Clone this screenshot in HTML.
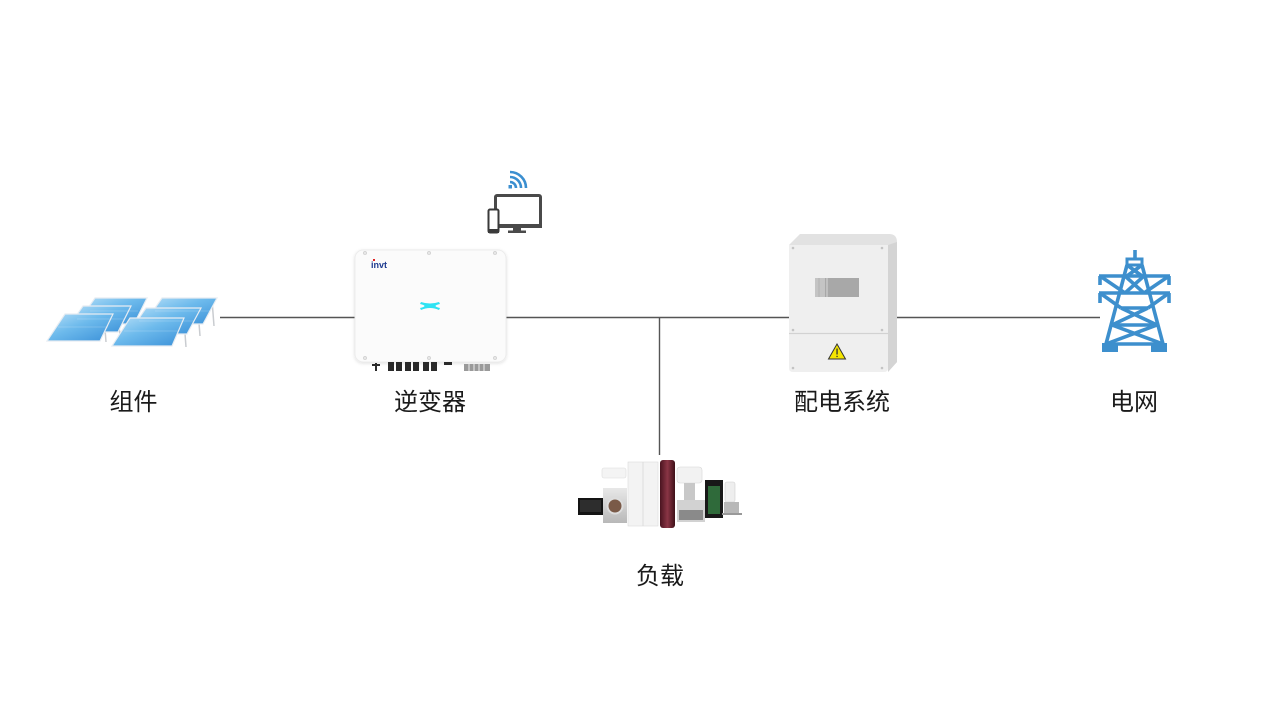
<!DOCTYPE html>
<html><head><meta charset="utf-8"><style>
html,body{margin:0;padding:0;background:#fff;}
body{width:1268px;height:719px;overflow:hidden;position:relative;}
svg{position:absolute;left:0;top:0;}
text{font-family:"Liberation Sans","Noto Sans CJK SC",sans-serif;font-size:24px;fill:#1a1a1a;}
</style></head><body>
<svg width="1268" height="719" viewBox="0 0 1268 719" xmlns="http://www.w3.org/2000/svg">
<defs>
<linearGradient id="pv" x1="0" y1="0" x2="1" y2="1">
<stop offset="0" stop-color="#b5def7"/><stop offset="0.45" stop-color="#6dbaec"/><stop offset="1" stop-color="#3a90d8"/>
</linearGradient>
<linearGradient id="brown" x1="0" y1="0" x2="1" y2="0">
<stop offset="0" stop-color="#4a1420"/><stop offset="0.5" stop-color="#8a3545"/><stop offset="1" stop-color="#3e1018"/>
</linearGradient>
<linearGradient id="silver" x1="0" y1="0" x2="0" y2="1">
<stop offset="0" stop-color="#e8e8e8"/><stop offset="1" stop-color="#b8b8b8"/>
</linearGradient>
<filter id="sh" x="-10%" y="-10%" width="120%" height="130%"><feDropShadow dx="0" dy="1" stdDeviation="1.5" flood-color="#000" flood-opacity="0.12"/></filter>
</defs>

<!-- connector lines -->
<g stroke="#555" stroke-width="1.4" fill="none">
<line x1="220" y1="317.5" x2="356" y2="317.5"/>
<line x1="505" y1="317.5" x2="790" y2="317.5"/>
<line x1="896" y1="317.5" x2="1100" y2="317.5"/>
<line x1="659.5" y1="317.5" x2="659.5" y2="455"/>
</g>

<!-- solar panels -->
<g>
<g stroke="#c9ccd0" stroke-width="1.5" fill="none">
<line x1="128" y1="300" x2="132" y2="326"/><line x1="116" y1="308" x2="120" y2="334"/><line x1="104" y1="316" x2="106" y2="342"/>
<line x1="212" y1="300" x2="214" y2="326"/><line x1="198" y1="310" x2="200" y2="336"/><line x1="184" y1="320" x2="186" y2="347"/>
</g>
<g fill="url(#pv)" stroke="#e6ecf2" stroke-width="1.2">
<polygon points="95,298 147,298 134,324 77,324"/>
<polygon points="83,306 131,306 118,332 65,332"/>
<polygon points="65,314 113,314 100,341 47,341"/>
<polygon points="162,298 217,298 203,324 144,324"/>
<polygon points="146,308 201,308 187,334 128,334"/>
<polygon points="130,318 184,318 172,346 112,346"/>
</g>
<g stroke="#ffffff" stroke-opacity="0.35" stroke-width="0.6">
<line x1="58" y1="327" x2="108" y2="327"/><line x1="77" y1="319" x2="124" y2="319"/><line x1="90" y1="311" x2="138" y2="311"/>
<line x1="124" y1="331" x2="178" y2="331"/><line x1="139" y1="321" x2="194" y2="321"/><line x1="155" y1="311" x2="210" y2="311"/>
</g>
</g>

<!-- monitor & phone icon -->
<g>
<g fill="none" stroke="#3b8fd0" stroke-width="2.6" stroke-linecap="butt">
<path d="M510 182 a6 6 0 0 1 6 6"/>
<path d="M510 177 a11 11 0 0 1 11 11"/>
<path d="M510 172 a16 16 0 0 1 16 16"/>
</g>
<rect x="508.5" y="185" width="3.5" height="3.5" fill="#3b8fd0"/>
<rect x="495.5" y="195.5" width="45" height="31" rx="1.5" fill="#fff" stroke="#4a4a4a" stroke-width="3"/>
<rect x="494" y="224" width="48" height="4" fill="#4a4a4a"/>
<rect x="513" y="228" width="8" height="3" fill="#4a4a4a"/>
<rect x="508" y="230.5" width="18" height="2.5" fill="#4a4a4a"/>
<rect x="488.5" y="209.5" width="10" height="23" rx="1.5" fill="#fff" stroke="#3a3a3a" stroke-width="2"/>
<rect x="488" y="229" width="11" height="4" fill="#3a3a3a"/>
</g>

<!-- inverter -->
<g>
<rect x="355" y="250" width="151" height="112" rx="8" fill="#fbfbfb" stroke="#ececec" stroke-width="1" filter="url(#sh)"/>
<g fill="#e6e6e6" stroke="#c8c8c8" stroke-width="0.6">
<circle cx="365" cy="253" r="1.6"/><circle cx="429" cy="253" r="1.6"/><circle cx="495" cy="253" r="1.6"/>
<circle cx="365" cy="358" r="1.6"/><circle cx="429" cy="358" r="1.6"/><circle cx="495" cy="358" r="1.6"/>
</g>
<text x="371" y="268" style="font-size:9px;font-weight:bold;fill:#1d3a8f;font-family:'Liberation Sans',sans-serif;">invt</text>
<rect x="373" y="259" width="2" height="2" fill="#e02020"/>
<g fill="#2ee3f3">
<path d="M421 302 Q430 305 439 302 L440 304 Q431 306 440 308 L439 310 Q430 306 421 310 L420 308 Q429 306 420 304 Z"/>
</g>
<g fill="#2a2a2a">
<rect x="375" y="363" width="2" height="8"/><rect x="372" y="364" width="8" height="2"/>
<rect x="388" y="362" width="6" height="9"/><rect x="396" y="362" width="6" height="9"/>
<rect x="405" y="362" width="6" height="9"/><rect x="413" y="362" width="6" height="9"/>
<rect x="423" y="362" width="6" height="9"/><rect x="431" y="362" width="6" height="9"/>
<rect x="444" y="362" width="8" height="3"/>
</g>
<g fill="#9a9a9a"><rect x="464" y="364" width="26" height="7"/></g>
<g stroke="#eee" stroke-width="1"><line x1="469" y1="364" x2="469" y2="371"/><line x1="474" y1="364" x2="474" y2="371"/><line x1="479" y1="364" x2="479" y2="371"/><line x1="484" y1="364" x2="484" y2="371"/></g>
</g>

<!-- distribution box -->
<g>
<path d="M800 234 L889 234 Q897 234 897 242 L897 362 L888 372 L888 245 L789 245 Z" fill="#e2e2e2"/>
<path d="M888 245 L897 242 L897 362 L888 372 Z" fill="#d4d4d4"/>
<path d="M789 245 L888 245 L888 368 Q888 372 884 372 L793 372 Q789 372 789 368 Z" fill="#efefef"/>
<line x1="789" y1="333.5" x2="888" y2="333.5" stroke="#d2d2d2" stroke-width="1.2"/>
<rect x="815" y="278" width="44" height="19" fill="#a8a8a8"/>
<rect x="815" y="278" width="10" height="19" fill="#c4c4c4"/>
<line x1="819" y1="278" x2="819" y2="297" stroke="#b2b2b2"/>
<line x1="827" y1="278" x2="827" y2="297" stroke="#d9d9d9"/>
<g fill="#c4c4c4">
<circle cx="793" cy="248" r="1.3"/><circle cx="882" cy="248" r="1.3"/>
<circle cx="793" cy="330" r="1.3"/><circle cx="882" cy="330" r="1.3"/>
<circle cx="793" cy="368" r="1.3"/><circle cx="882" cy="368" r="1.3"/>
</g>
<polygon points="837,344 845.5,359 828.5,359" fill="#f5e600" stroke="#333" stroke-width="1"/>
<rect x="836.4" y="348.5" width="1.3" height="6" fill="#333"/>
<rect x="836.4" y="355.8" width="1.3" height="1.3" fill="#333"/>
</g>

<!-- tower -->
<g stroke="#3d8fcd" stroke-width="3.6" fill="none" stroke-linejoin="miter">
<line x1="1135" y1="250" x2="1135" y2="259"/>
<rect x="1127" y="259" width="15" height="6" stroke-width="3"/>
<line x1="1127" y1="265" x2="1106" y2="344"/>
<line x1="1142" y1="265" x2="1163" y2="344"/>
<line x1="1099" y1="276" x2="1170" y2="276"/>
<line x1="1099" y1="293" x2="1170" y2="293"/>
<line x1="1100" y1="276" x2="1100" y2="285"/><line x1="1169" y1="276" x2="1169" y2="285"/>
<line x1="1100" y1="293" x2="1100" y2="303"/><line x1="1169" y1="293" x2="1169" y2="303"/>
<line x1="1100" y1="276" x2="1125" y2="293"/><line x1="1169" y1="276" x2="1144" y2="293"/>
<line x1="1100" y1="293" x2="1121" y2="308"/><line x1="1169" y1="293" x2="1148" y2="308"/>
<line x1="1125" y1="276" x2="1144" y2="293"/><line x1="1144" y1="276" x2="1125" y2="293"/>
<line x1="1127" y1="265" x2="1142" y2="276"/><line x1="1142" y1="265" x2="1127" y2="276"/>
<line x1="1121" y1="308" x2="1148" y2="308"/>
<line x1="1121" y1="308" x2="1157" y2="325"/><line x1="1148" y1="308" x2="1112" y2="325"/>
<line x1="1112" y1="325" x2="1157" y2="325"/>
<line x1="1112" y1="325" x2="1163" y2="344"/><line x1="1157" y1="325" x2="1106" y2="344"/>
<line x1="1106" y1="344" x2="1163" y2="344"/>
</g>
<g fill="#3d8fcd">
<rect x="1102" y="343" width="16" height="9"/>
<rect x="1151" y="343" width="16" height="9"/>
</g>

<!-- appliances -->
<g>
<rect x="602" y="468" width="24" height="10" rx="2" fill="#f4f4f4" stroke="#dcdcdc" stroke-width="0.6"/>
<rect x="578" y="498" width="25" height="17" fill="#141414"/>
<rect x="580" y="500" width="21" height="12" fill="#2d2d2d"/>
<rect x="603" y="488" width="24" height="35" fill="url(#silver)"/>
<circle cx="615" cy="506" r="8.5" fill="#ddd"/>
<circle cx="615" cy="506" r="6.5" fill="#7a5a48"/>
<rect x="628" y="462" width="30" height="64" fill="#f3f3f3" stroke="#dadada" stroke-width="0.6"/>
<line x1="643" y1="462" x2="643" y2="526" stroke="#d8d8d8" stroke-width="0.8"/>
<rect x="660" y="460" width="15" height="68" rx="3" fill="url(#brown)"/>
<rect x="677" y="467" width="25" height="16" rx="3" fill="#f2f2f2" stroke="#d6d6d6" stroke-width="0.6"/>
<rect x="684" y="483" width="11" height="17" fill="#c8c8c8"/>
<rect x="677" y="500" width="28" height="22" fill="#d2d2d2"/>
<rect x="679" y="510" width="24" height="10" fill="#8a8a8a"/>
<rect x="705" y="480" width="18" height="38" fill="#181818"/>
<rect x="708" y="486" width="12" height="28" fill="#2f6a3a"/>
<rect x="725" y="482" width="10" height="20" rx="2" fill="#eeeeee" stroke="#d0d0d0" stroke-width="0.6"/>
<rect x="724" y="502" width="15" height="11" fill="#b8b8b8"/>
<rect x="722" y="513" width="20" height="2" fill="#999"/>
</g>

<!-- labels -->
<text x="133.5" y="410" text-anchor="middle">组件</text>
<text x="430" y="410" text-anchor="middle">逆变器</text>
<text x="842" y="410" text-anchor="middle">配电系统</text>
<text x="1134" y="410" text-anchor="middle">电网</text>
<text x="660" y="584" text-anchor="middle">负载</text>
</svg>
</body></html>
